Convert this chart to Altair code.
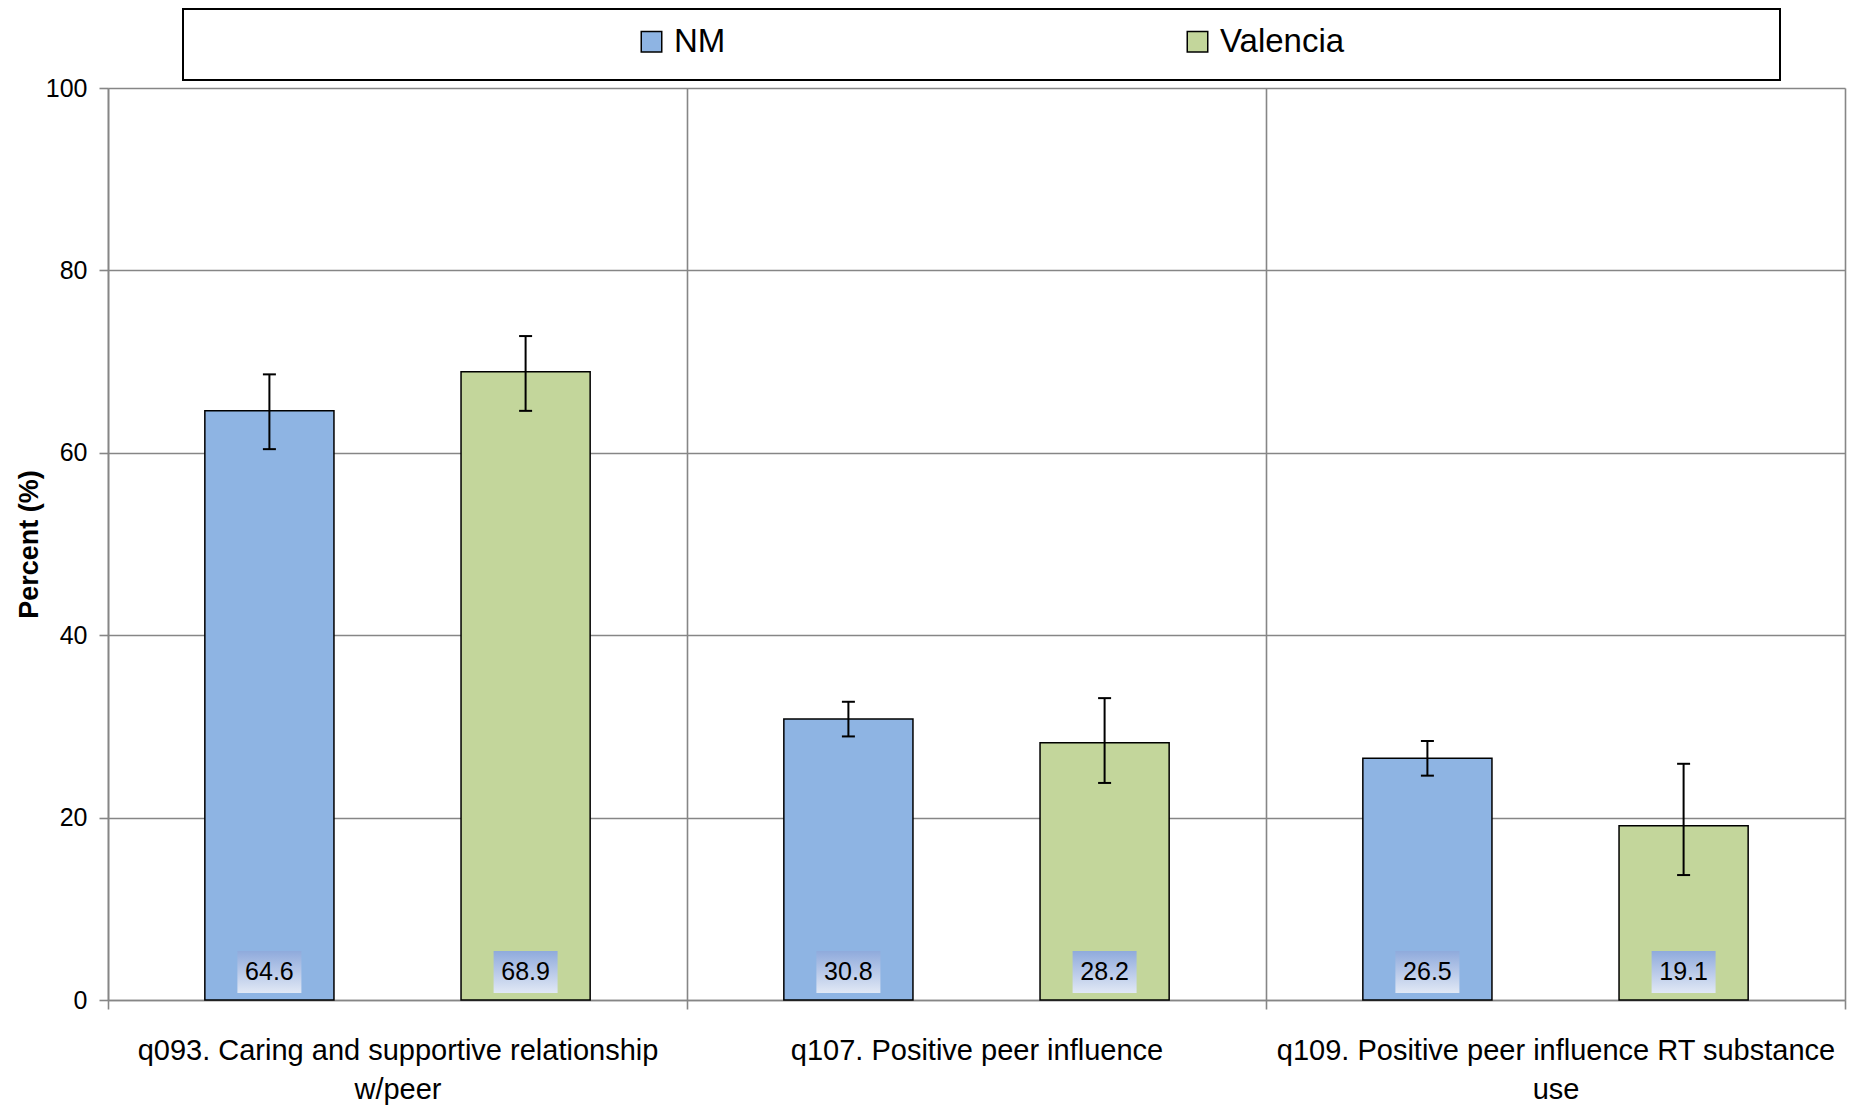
import json
import altair as alt
import pandas as pd

# ---- data ----
categories = [
    "q093. Caring and supportive relationship w/peer",
    "q107.  Positive peer influence",
    "q109. Positive peer influence RT substance use",
]
category_lines = [
    ["q093. Caring and supportive relationship", "w/peer"],
    ["q107.  Positive peer influence"],
    ["q109. Positive peer influence RT substance", "use"],
]
series = ["NM", "Valencia"]
nm_values = [64.6, 30.8, 26.5]
nm_lower = [60.4, 28.9, 24.6]
nm_upper = [68.6, 32.7, 28.4]
valencia_values = [68.9, 28.2, 19.1]
valencia_lower = [64.6, 23.8, 13.7]
valencia_upper = [72.8, 33.1, 25.9]
y_ticks = [0, 20, 40, 60, 80, 100]

colors = ["#8EB4E3", "#C3D69B"]
FONT = "Liberation Sans Narrow, Liberation Sans, sans-serif"

rows = []
for s, vals, lo, hi in [
    ("NM", nm_values, nm_lower, nm_upper),
    ("Valencia", valencia_values, valencia_lower, valencia_upper),
]:
    for c, v, l, h in zip(categories, vals, lo, hi):
        rows.append({"category": c, "series": s, "value": v, "lower": l, "upper": h})
df = pd.DataFrame(rows)

# multi-line x labels
expr = "''"
for c, lines in reversed(list(zip(categories, category_lines))):
    expr = f"datum.value == {json.dumps(c)} ? {json.dumps(lines)} : ({expr})"

Y_TITLE = "Percent (%)"

base = alt.Chart(df).encode(
    x=alt.X(
        "category:N",
        sort=categories,
        scale=alt.Scale(paddingInner=0, paddingOuter=0),
        axis=alt.Axis(
            title=None,
            labelAngle=0,
            labelExpr=expr,
            labelFontSize=29,
            labelLineHeight=39,
            labelLimit=800,
            labelPadding=27,
            tickSize=9,
            tickBand="extent",
            grid=True,
        ),
    ),
    xOffset=alt.XOffset(
        "series:N", sort=series, scale=alt.Scale(paddingInner=0.496, paddingOuter=0.378)
    ),
)

yscale = alt.Scale(domain=[0, 100], nice=False)
yaxis = alt.Axis(
    values=y_ticks,
    title=Y_TITLE,
    labelFontSize=25,
    tickSize=9,
    labelPadding=12,
    titleFontSize=27,
    titleFontWeight="bold",
    titleFont=FONT,
    titleColor="black",
    titlePadding=2,
    grid=True,
)

frame = alt.Chart(pd.DataFrame({"a": [0]})).mark_rect(
    fill="white", stroke="black", strokeWidth=2
).encode(
    x=alt.value(75), x2=alt.value(1672), y=alt.value(-79), y2=alt.value(-8)
)

bars = base.mark_bar(stroke="black", strokeWidth=1.5).encode(
    y=alt.Y("value:Q", scale=yscale, axis=yaxis, title=Y_TITLE),
    color=alt.Color(
        "series:N",
        sort=series,
        scale=alt.Scale(domain=series, range=colors),
        legend=alt.Legend(
            orient="none",
            legendX=527,
            legendY=-63,
            direction="horizontal",
            columns=2,
            columnPadding=455,
            title=None,
            symbolType="square",
            symbolSize=420,
            symbolStrokeColor="black",
            symbolStrokeWidth=1.5,
            labelFont=FONT,
            labelFontSize=33,
            labelColor="black",
            labelOffset=6,
            padding=0,
        ),
    ),
)

err = base.mark_rule(color="black", strokeWidth=2).encode(
    y=alt.Y("lower:Q", scale=yscale, title=Y_TITLE), y2="upper:Q"
)
cap_lo = base.mark_tick(color="black", thickness=2, size=13, opacity=1).encode(
    y=alt.Y("lower:Q", scale=yscale, title=Y_TITLE)
)
cap_hi = base.mark_tick(color="black", thickness=2, size=13, opacity=1).encode(
    y=alt.Y("upper:Q", scale=yscale, title=Y_TITLE)
)

gradient = alt.LinearGradient(
    gradient="linear",
    stops=[
        alt.GradientStop(color="#8FAADC", offset=0),
        alt.GradientStop(color="#E1E8F5", offset=1),
    ],
    x1=0, x2=0, y1=0, y2=1,
)
label_box = base.mark_bar(width=64, fill=gradient, yOffset=-7, y2Offset=-49).encode(
    y=alt.datum(0), y2=alt.datum(0)
)
label_text = base.mark_text(
    font=FONT, fontSize=25, color="black", baseline="middle", yOffset=-28
).encode(y=alt.datum(0), text=alt.Text("value:Q", format=".1f"))

chart = (
    alt.layer(frame, bars, err, cap_lo, cap_hi, label_box, label_text)
    .properties(
        width=1737,
        height=912,
        autosize=alt.AutoSizeParams(type="none"),
        padding={"left": 100, "top": 80, "right": 2, "bottom": 107},
    )
    .configure_view(stroke=None)
    .configure_axis(
        gridColor="#868686",
        gridWidth=1.6,
        domainColor="#868686",
        domainWidth=1.6,
        tickColor="#868686",
        tickWidth=1.6,
        labelColor="black",
        labelFont=FONT,
    )
)

chart.save("out.html", embed_options={"renderer": "svg", "actions": False})
